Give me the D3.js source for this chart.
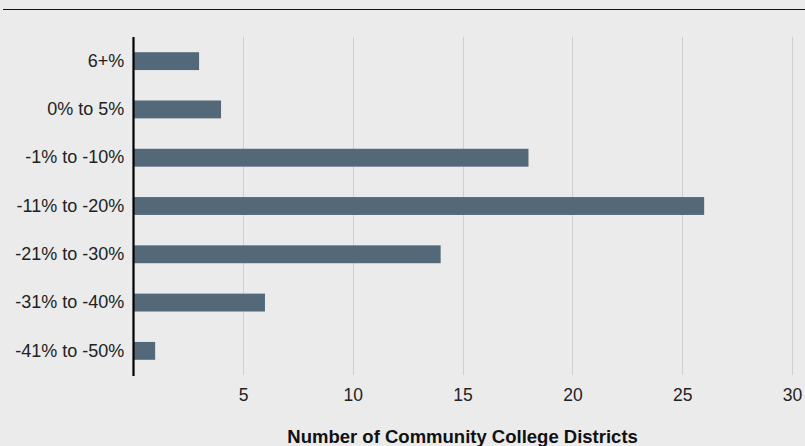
<!DOCTYPE html>
<html><head><meta charset="utf-8">
<script src="https://cdn.jsdelivr.net/npm/d3@7"></script>
<style>
html,body{margin:0;padding:0;background:#ebebeb;}
svg{display:block;font-family:"Liberation Sans",Arial,Helvetica,sans-serif;}
</style></head>
<body>
<svg id="chart" width="805" height="446"></svg>
<script>
const categories = ["6+%","0% to 5%","-1% to -10%","-11% to -20%","-21% to -30%","-31% to -40%","-41% to -50%"];
const values = [3,4,18,26,14,6,1];
const tickValues = [5,10,15,20,25,30];
const xTitle = "Number of Community College Districts";

const svg = d3.select("#chart");
svg.append("rect").attr("width",805).attr("height",446).attr("fill","#ebebeb");
svg.append("line").attr("x1",3).attr("x2",805).attr("y1",9.5).attr("y2",9.5)
  .attr("stroke","#111").attr("stroke-width",1.2);

const x = d3.scaleLinear().domain([0,30]).range([133.2,792]);
const y = d3.scaleBand().domain(categories).range([37,375]).paddingInner(0.63).paddingOuter(0.315);

// gridlines
svg.append("g").selectAll("line").data(tickValues).join("line")
  .attr("x1",d=>Math.round(x(d))+0.5).attr("x2",d=>Math.round(x(d))+0.5)
  .attr("y1",37).attr("y2",375).attr("stroke","#cfcfcf").attr("stroke-width",1);

// bars
svg.append("g").selectAll("rect").data(values).join("rect")
  .attr("x",x(0)).attr("y",(d,i)=>y(categories[i]))
  .attr("width",d=>x(d)-x(0)).attr("height",y.bandwidth())
  .attr("fill","#536878");

// x axis tick labels
const xAxis = d3.axisBottom(x).tickValues(tickValues).tickSize(0).tickPadding(0);
const gx = svg.append("g").attr("transform","translate(0,401)").call(xAxis);
gx.select(".domain").remove();
gx.selectAll("text").attr("font-size","17.5px").attr("fill","#222")
  .attr("font-family","Liberation Sans, Arial, sans-serif").attr("dy","0").attr("y",0);

// y axis labels
const yAxis = d3.axisLeft(y).tickSize(0).tickPadding(9);
const gy = svg.append("g").attr("transform",`translate(${x(0)},0)`).call(yAxis);
gy.select(".domain").remove();
gy.selectAll("text").attr("font-size","18px").attr("fill","#222")
  .attr("font-family","Liberation Sans, Arial, sans-serif");

// axis line
svg.append("line").attr("x1",133.5).attr("x2",133.5).attr("y1",37).attr("y2",376)
  .attr("stroke","#000").attr("stroke-width",2.2);

svg.append("text").attr("x",(x(0)+x(30))/2).attr("y",443)
  .attr("text-anchor","middle").attr("font-weight","bold").attr("font-size","18.5px")
  .attr("fill","#111").text(xTitle);
</script>
</body></html>
